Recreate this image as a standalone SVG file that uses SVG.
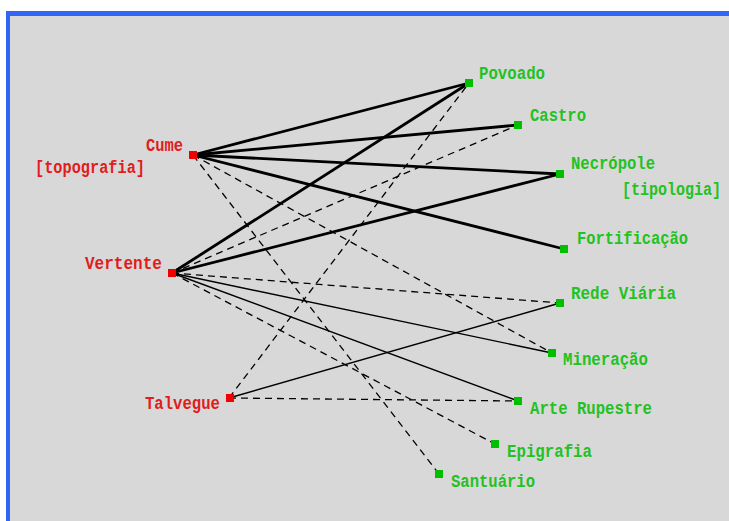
<svg xmlns="http://www.w3.org/2000/svg" width="729" height="521" viewBox="0 0 729 521">
  <style>
    .lbl { font-family: "Liberation Mono", "DejaVu Sans Mono", monospace; font-weight: bold; font-size: 18px; }
    .topo { fill: #e21c1c; }
    .tipo { fill: #22c222; }
    .sq-topo { fill: #f00000; }
    .sq-tipo { fill: #00bf00; }
    .thick { stroke: #000; stroke-width: 2.8; fill: none; }
    .thin { stroke: #000; stroke-width: 1.4; fill: none; }
    .dash { stroke: #000; stroke-width: 1.3; fill: none; stroke-dasharray: 7 5; }
  </style>

  <!-- frame -->
  <rect x="0" y="0" width="729" height="521" fill="#ffffff"/>
  <rect x="6" y="11" width="723" height="510" fill="#3264f5"/>
  <rect x="10" y="16" width="719" height="505" fill="#d8d8d8"/>

  <!-- connectors -->
  <g id="connectors">
    <!-- strong links -->
    <line class="thick" x1="193" y1="155" x2="469" y2="83"/>
    <line class="thick" x1="193" y1="155" x2="518" y2="125"/>
    <line class="thick" x1="193" y1="155" x2="560" y2="174"/>
    <line class="thick" x1="193" y1="155" x2="564" y2="249"/>
    <line class="thick" x1="172" y1="273" x2="469" y2="83"/>
    <line class="thick" x1="172" y1="273" x2="560" y2="174"/>
    <!-- medium links -->
    <line class="thin" x1="172" y1="273" x2="552" y2="353"/>
    <line class="thin" x1="172" y1="273" x2="518" y2="401"/>
    <line class="thin" x1="229" y1="398" x2="560" y2="303"/>
    <!-- weak links -->
    <line class="dash" x1="193" y1="155" x2="552" y2="353"/>
    <line class="dash" x1="193" y1="155" x2="439" y2="474"/>
    <line class="dash" x1="172" y1="273" x2="518" y2="125"/>
    <line class="dash" x1="172" y1="273" x2="560" y2="303"/>
    <line class="dash" x1="172" y1="273" x2="495" y2="444"/>
    <line class="dash" x1="229" y1="398" x2="469" y2="83"/>
    <line class="dash" x1="229" y1="398" x2="518" y2="401"/>
  </g>

  <!-- topografia -->
  <g id="cume">
    <rect class="sq-topo" x="189" y="151" width="8" height="8"/>
    <text class="lbl topo" x="183" y="151" text-anchor="end" textLength="37" lengthAdjust="spacingAndGlyphs">Cume</text>
  </g>
  <g id="topografia-label">
    <text class="lbl topo" x="35" y="173" textLength="110" lengthAdjust="spacingAndGlyphs">[topografia]</text>
  </g>
  <g id="vertente">
    <rect class="sq-topo" x="168" y="269" width="8" height="8"/>
    <text class="lbl topo" x="85" y="269" textLength="77" lengthAdjust="spacingAndGlyphs">Vertente</text>
  </g>
  <g id="talvegue">
    <rect class="sq-topo" x="226" y="394" width="8" height="8"/>
    <text class="lbl topo" x="145" y="409" textLength="75" lengthAdjust="spacingAndGlyphs">Talvegue</text>
  </g>

  <!-- tipologia -->
  <g id="povoado">
    <rect class="sq-tipo" x="465" y="79" width="8" height="8"/>
    <text class="lbl tipo" x="479" y="79" textLength="66" lengthAdjust="spacingAndGlyphs">Povoado</text>
  </g>
  <g id="castro">
    <rect class="sq-tipo" x="514" y="121" width="8" height="8"/>
    <text class="lbl tipo" x="530" y="121" textLength="56" lengthAdjust="spacingAndGlyphs">Castro</text>
  </g>
  <g id="necropole">
    <rect class="sq-tipo" x="556" y="170" width="8" height="8"/>
    <text class="lbl tipo" x="571" y="169" textLength="84" lengthAdjust="spacingAndGlyphs">Necrópole</text>
  </g>
  <g id="tipologia-label">
    <text class="lbl tipo" x="622" y="195" font-size="16" textLength="99" lengthAdjust="spacingAndGlyphs">[tipologia]</text>
  </g>
  <g id="fortificacao">
    <rect class="sq-tipo" x="560" y="245" width="8" height="8"/>
    <text class="lbl tipo" x="577" y="244" textLength="111" lengthAdjust="spacingAndGlyphs">Fortificação</text>
  </g>
  <g id="rede-viaria">
    <rect class="sq-tipo" x="556" y="299" width="8" height="8"/>
    <text class="lbl tipo" x="571" y="299" textLength="105" lengthAdjust="spacingAndGlyphs">Rede Viária</text>
  </g>
  <g id="mineracao">
    <rect class="sq-tipo" x="548" y="349" width="8" height="8"/>
    <text class="lbl tipo" x="563" y="365" textLength="85" lengthAdjust="spacingAndGlyphs">Mineração</text>
  </g>
  <g id="arte-rupestre">
    <rect class="sq-tipo" x="514" y="397" width="8" height="8"/>
    <text class="lbl tipo" x="530" y="414" textLength="122" lengthAdjust="spacingAndGlyphs">Arte Rupestre</text>
  </g>
  <g id="epigrafia">
    <rect class="sq-tipo" x="491" y="440" width="8" height="8"/>
    <text class="lbl tipo" x="507" y="457" textLength="85" lengthAdjust="spacingAndGlyphs">Epigrafia</text>
  </g>
  <g id="santuario">
    <rect class="sq-tipo" x="435" y="470" width="8" height="8"/>
    <text class="lbl tipo" x="451" y="487" textLength="84" lengthAdjust="spacingAndGlyphs">Santuário</text>
  </g>
</svg>
